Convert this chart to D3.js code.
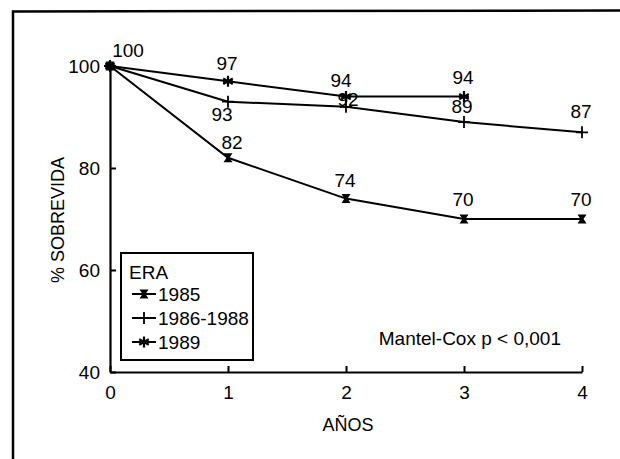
<!DOCTYPE html>
<html><head><meta charset="utf-8">
<script src="https://cdn.jsdelivr.net/npm/d3@7/dist/d3.min.js"></script>
<style>
html,body{margin:0;padding:0;background:#fff;}
svg{display:block;}
text{font-family:"Liberation Sans","DejaVu Sans",sans-serif;fill:#000;}
</style></head>
<body>
<script>
// ---- data ----
const years = [0, 1, 2, 3, 4];
const xTicks = [0, 1, 2, 3, 4];
const yTicks = [40, 60, 80, 100];
const seriesNames = ["1985", "1986-1988", "1989"];
const values1985 = [100, 82, 74, 70, 70];
const values1986 = [100, 93, 92, 89, 87];
const values1989 = [100, 97, 94, 94];
const legendTitle = "ERA";
const xTitle = "AÑOS";
const yTitle = "% SOBREVIDA";
const note = "Mantel-Cox p < 0,001";

// label placement (dx, dy from point; null = no label)
const labelPlace = {
  "1985":      [[18,-16],[4,-15],[-1,-18],[-1,-20],[-1,-20]],
  "1986-1988": [null,[-6,13],[2,-7],[-2,-16],[-1,-21]],
  "1989":      [null,[-1,-18],[-5,-16],[-1,-19]]
};

const W = 620, H = 459;
const svg = d3.select("body").append("svg").attr("width", W).attr("height", H);

// frame
svg.append("path").attr("d", "M13,459 L13,11.5 L620,10.5")
  .attr("fill","none").attr("stroke","#000").attr("stroke-width",2.5);

const x = d3.scaleLinear().domain([0, 4]).range([110, 582]);
const y = d3.scaleLinear().domain([40, 100]).range([372, 66]);

// axes
const gx = svg.append("g").attr("transform", `translate(0,${y(40)})`)
  .call(d3.axisBottom(x).tickValues(xTicks).tickSizeInner(-6).tickSizeOuter(0).tickPadding(14).tickFormat(d3.format("d")));
const gy = svg.append("g").attr("transform", `translate(${x(0)},0)`)
  .call(d3.axisLeft(y).tickValues(yTicks).tickSizeInner(-6).tickSizeOuter(0).tickPadding(10).tickFormat(d3.format("d")));
[gx, gy].forEach(g => {
  g.select(".domain").attr("stroke","#000").attr("stroke-width",2.2);
  g.selectAll(".tick line").attr("stroke","#000").attr("stroke-width",2);
  g.selectAll(".tick text").attr("font-size",19).attr("font-family","Liberation Sans, sans-serif");
});
gx.selectAll(".tick text").attr("dy","0.71em");
gy.selectAll(".tick text").attr("dy","0.36em");

// titles
svg.append("text").attr("x", 348).attr("y", 425).attr("text-anchor","middle")
  .attr("dominant-baseline","central").attr("font-size",18).text(xTitle);
svg.append("text").attr("transform","translate(58,220) rotate(-90)").attr("text-anchor","middle")
  .attr("dominant-baseline","central").attr("font-size",18).text(yTitle);

// markers
function drawMarker(g, type, cx, cy) {
  if (type === "1985") {
    g.append("path").attr("transform",`translate(${cx},${cy})`)
      .attr("d","M-4.5,-4.5 H4.5 L1.5,0 L4.5,4.5 H-4.5 L-1.5,0 Z").attr("fill","#000");
  } else if (type === "1986-1988") {
    g.append("path").attr("transform",`translate(${cx},${cy})`)
      .attr("d","M0,-6 V6 M-6,0 H6").attr("stroke","#000").attr("stroke-width",1.8).attr("fill","none");
  } else {
    const r = 5.5, a = Math.PI/3;
    let d = "";
    for (let i = 0; i < 3; i++) {
      const ang = Math.PI/2 + i*a;
      d += `M${r*Math.cos(ang)},${r*Math.sin(ang)} L${-r*Math.cos(ang)},${-r*Math.sin(ang)} `;
    }
    d += "M-5,0 H5";
    g.append("path").attr("transform",`translate(${cx},${cy})`)
      .attr("d", d).attr("stroke","#000").attr("stroke-width",2.2).attr("fill","none");
  }
}

const series = [
  {name: seriesNames[0], vals: values1985},
  {name: seriesNames[1], vals: values1986},
  {name: seriesNames[2], vals: values1989}
];
const line = d3.line().x((d,i) => x(years[i])).y(d => y(d));
const plot = svg.append("g");
series.forEach(s => {
  plot.append("path").datum(s.vals).attr("d", line)
    .attr("fill","none").attr("stroke","#000").attr("stroke-width",2);
});
series.forEach(s => {
  s.vals.forEach((v,i) => {
    drawMarker(plot, s.name, x(years[i]), y(v));
  });
});
// value labels
series.forEach(s => {
  s.vals.forEach((v,i) => {
    const p = labelPlace[s.name][i];
    if (!p) return;
    plot.append("text").attr("x", x(years[i]) + p[0]).attr("y", y(v) + p[1])
      .attr("text-anchor","middle").attr("dominant-baseline","central")
      .attr("font-size",19).text(v);
  });
});

// legend
const lg = svg.append("g");
lg.append("rect").attr("x",121).attr("y",253).attr("width",132).attr("height",107)
  .attr("fill","#fff").attr("stroke","#000").attr("stroke-width",2);
lg.append("text").attr("x",129).attr("y",272).attr("dominant-baseline","central")
  .attr("font-size",19).text(legendTitle);
const ly = d3.scalePoint().domain(seriesNames).range([294, 342]);
seriesNames.forEach(n => {
  lg.append("line").attr("x1",132).attr("x2",156).attr("y1",ly(n)).attr("y2",ly(n))
    .attr("stroke","#000").attr("stroke-width",2);
  drawMarker(lg, n, 144, ly(n));
  lg.append("text").attr("x",158).attr("y",ly(n)).attr("dominant-baseline","central")
    .attr("font-size",19).text(n);
});

// note
svg.append("text").attr("x",561).attr("y",338).attr("text-anchor","end")
  .attr("dominant-baseline","central").attr("font-size",19).text(note);
</script>
</body></html>
